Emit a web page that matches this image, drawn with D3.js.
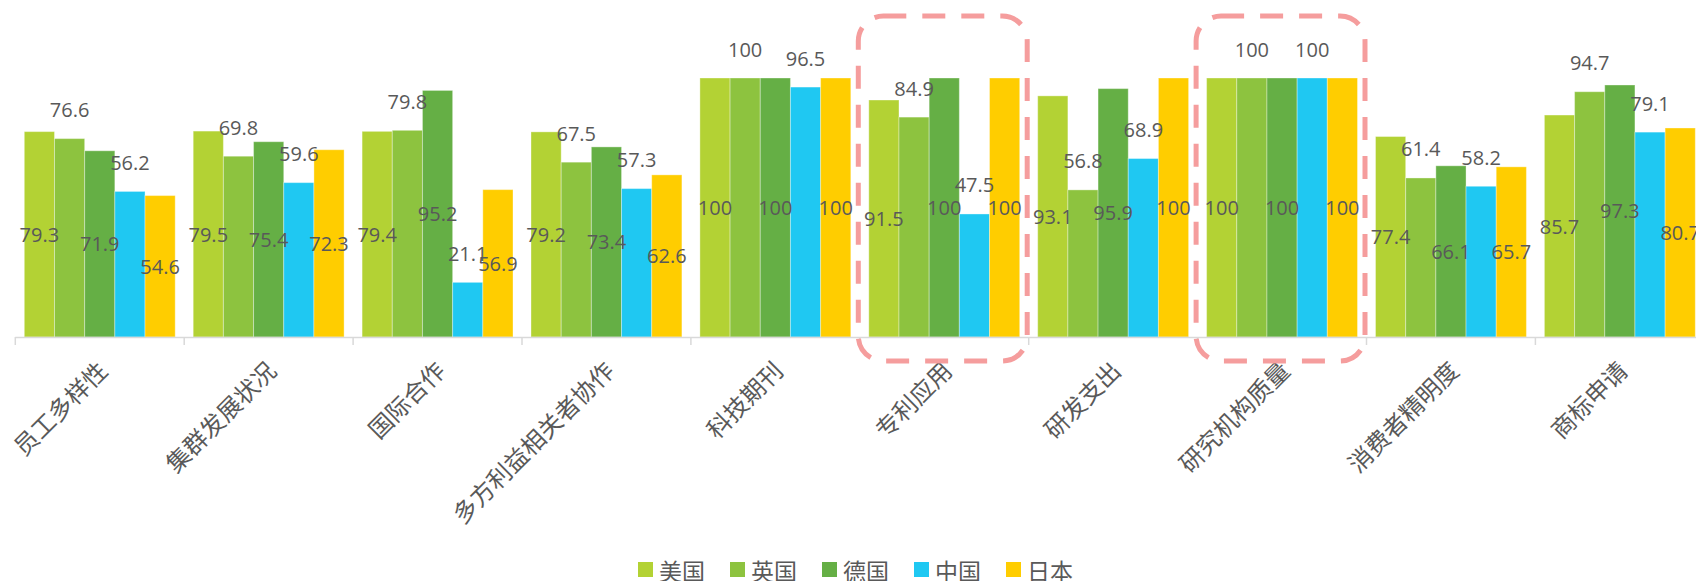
<!DOCTYPE html>
<html>
<head>
<meta charset="utf-8">
<script src="https://cdn.jsdelivr.net/npm/d3@7/dist/d3.min.js"></script>
<style>
  html, body { margin: 0; padding: 0; background: #fff; }
  svg { display: block; }
</style>
</head>
<body>
<svg id="chart" width="1696" height="581"></svg>
<script>
const categories = ["员工多样性","集群发展状况","国际合作","多方利益相关者协作","科技期刊","专利应用","研发支出","研究机构质量","消费者精明度","商标申请"];
const seriesNames = ["美国","英国","德国","中国","日本"];
const usa     = [79.3, 79.5, 79.4, 79.2, 100, 91.5, 93.1, 100, 77.4, 85.7];
const uk      = [76.6, 69.8, 79.8, 67.5, 100, 84.9, 56.8, 100, 61.4, 94.7];
const germany = [71.9, 75.4, 95.2, 73.4, 100, 100, 95.9, 100, 66.1, 97.3];
const china   = [56.2, 59.6, 21.1, 57.3, 96.5, 47.5, 68.9, 100, 58.2, 79.1];
const japan   = [54.6, 72.3, 56.9, 62.6, 100, 100, 100, 100, 65.7, 80.7];
const highlighted = ["专利应用", "研究机构质量"];

const seriesValues = [usa, uk, germany, china, japan];
const colors = ["#B3D234", "#8DC33F", "#65AF45", "#1FC8F2", "#FFCD00"];

const svg = d3.select("#chart");
const axisY = 337;

const x0 = d3.scaleBand().domain(categories).range([15.3, 1704.3])
  .paddingInner(0.1066).paddingOuter(0.0533);
const x1 = d3.scaleBand().domain(seriesNames).range([0, x0.bandwidth()]).padding(0);
const y = d3.scaleLinear().domain([0, 100]).range([axisY, 78]);

const data = [];
categories.forEach((c, i) => {
  seriesNames.forEach((s, j) => {
    data.push({cat: c, series: s, si: j, value: seriesValues[j][i]});
  });
});

// bars
svg.append("g").selectAll("rect").data(data).join("rect")
  .attr("x", d => x0(d.cat) + x1(d.series))
  .attr("y", d => y(d.value))
  .attr("width", x1.bandwidth())
  .attr("height", d => axisY - y(d.value))
  .attr("fill", d => colors[d.si])
  .attr("stroke", "rgba(255,255,255,0.35)")
  .attr("stroke-width", 1);

// axis
const step = x0.step();
const axisG = svg.append("g");
axisG.append("line")
  .attr("x1", x0.range()[0]).attr("x2", x0.range()[1])
  .attr("y1", axisY + 0.5).attr("y2", axisY + 0.5)
  .attr("stroke", "#D9D9D9").attr("stroke-width", 1.5);
const tickPos = d3.range(categories.length + 1).map(i => x0.range()[0] + i * step);
axisG.selectAll("line.tick").data(tickPos).join("line")
  .attr("class", "tick")
  .attr("x1", d => d).attr("x2", d => d)
  .attr("y1", axisY).attr("y2", axisY + 8)
  .attr("stroke", "#D9D9D9").attr("stroke-width", 1.5);

// category labels
svg.append("g").selectAll("text").data(categories).join("text")
  .attr("transform", d => `translate(${x0(d) + x0.bandwidth() / 2 + 2},365) rotate(-45)`)
  .attr("text-anchor", "end")
  .attr("dominant-baseline", "central")
  .attr("font-family", "'Noto Sans CJK SC', sans-serif")
  .attr("font-size", 24)
  .attr("fill", "#595959")
  .text(d => d);

// value labels
svg.append("g").selectAll("text").data(data).join("text")
  .attr("x", d => x0(d.cat) + x1(d.series) + x1.bandwidth() / 2)
  .attr("y", d => (d.si % 2 === 0) ? (y(d.value) + axisY) / 2 : y(d.value) - 29)
  .attr("text-anchor", "middle")
  .attr("dominant-baseline", "central")
  .attr("font-family", "'Open Sans', sans-serif")
  .attr("font-size", 20)
  .attr("fill", "#595959")
  .text(d => d.value);

// highlight dashed rounded rectangles
svg.append("g").selectAll("rect").data(highlighted).join("rect")
  .attr("x", d => x0(d) - 10.5)
  .attr("y", 16)
  .attr("width", step)
  .attr("height", 345)
  .attr("rx", 25).attr("ry", 25)
  .attr("fill", "none")
  .attr("stroke", "#F59D9D")
  .attr("stroke-width", 5)
  .attr("stroke-dasharray", "23 16");

// legend
const legend = svg.append("g").attr("transform", "translate(638,562)");
const items = legend.selectAll("g").data(seriesNames).join("g")
  .attr("transform", (d, i) => `translate(${i * 92},0)`);
items.append("rect").attr("width", 15).attr("height", 15)
  .attr("fill", (d, i) => colors[i]);
items.append("text")
  .attr("x", 21).attr("y", 7.5)
  .attr("dominant-baseline", "central")
  .attr("font-family", "'Noto Sans CJK SC', sans-serif")
  .attr("font-size", 23)
  .attr("fill", "#595959")
  .text(d => d);
</script>
</body>
</html>
